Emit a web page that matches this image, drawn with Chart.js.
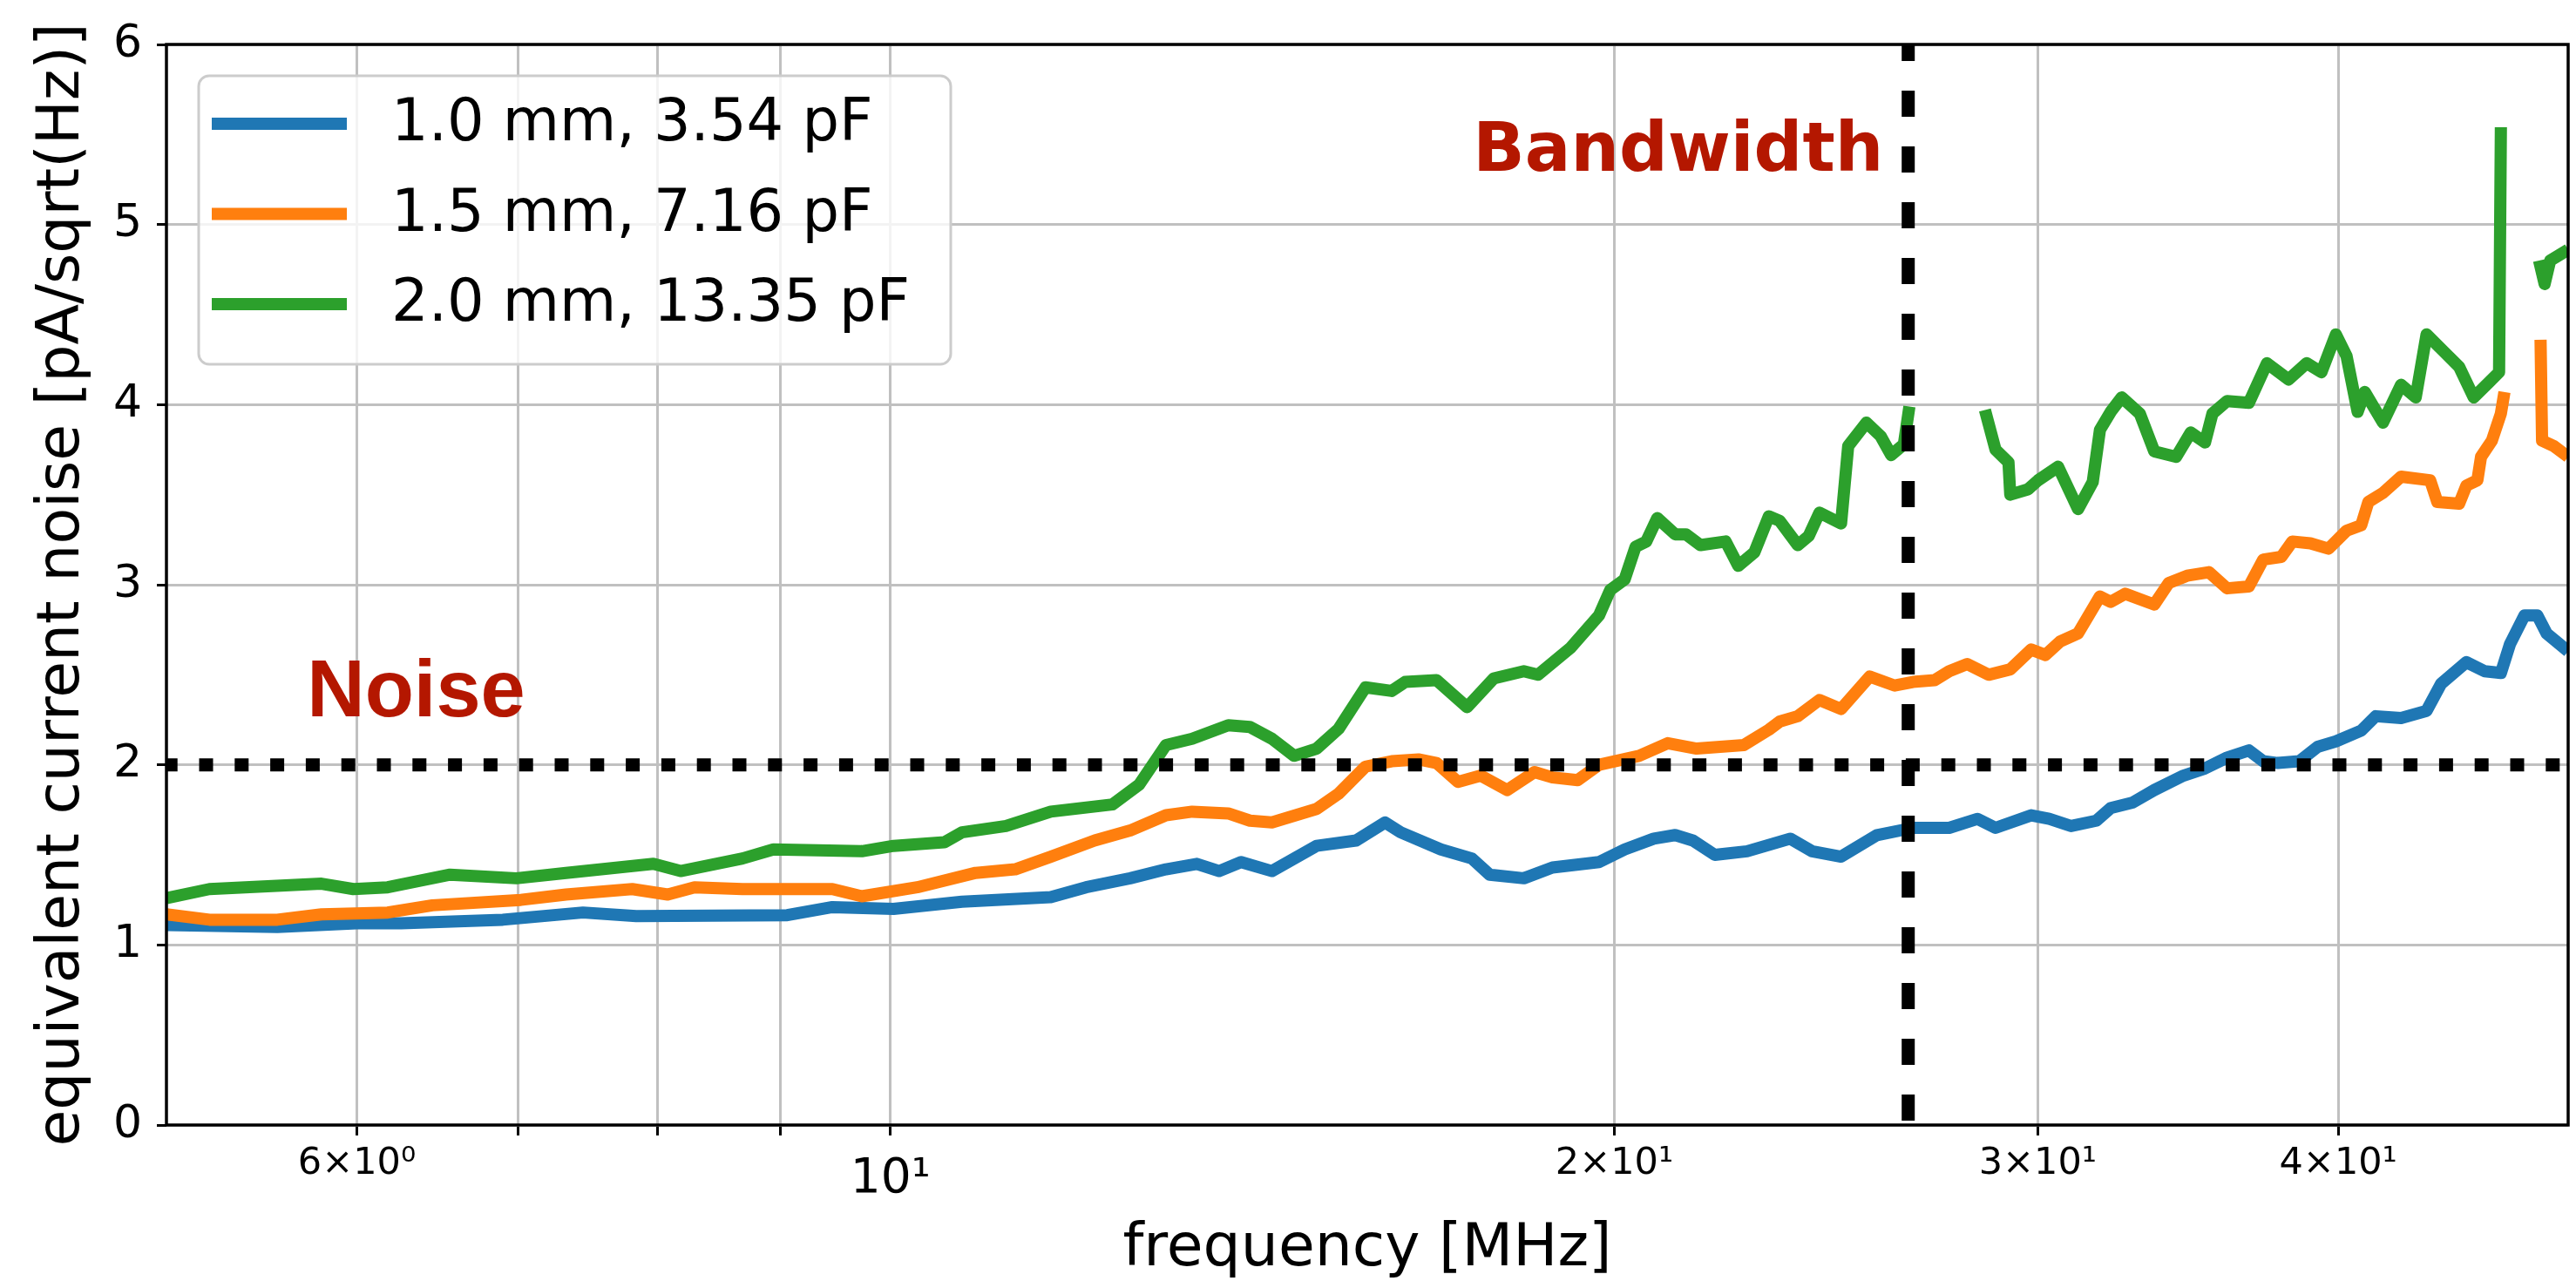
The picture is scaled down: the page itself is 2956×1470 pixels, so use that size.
<!DOCTYPE html>
<html>
<head>
<meta charset="utf-8">
<title>Equivalent current noise</title>
<script src="https://cdn.jsdelivr.net/npm/chart.js@4.4.1/dist/chart.umd.min.js"></script>
<style>
    html, body { margin: 0; padding: 0; background: #fff; }
    #wrap { width: 2956px; height: 1470px; position: relative; }
</style>
</head>
<body>
<div id="wrap"><canvas id="noise-chart"></canvas></div>
<script>
// values (frequency in MHz, noise in pA/sqrt(Hz))
const blueFreq = [5.0, 5.56, 6.0, 6.26, 6.9, 7.45, 7.84, 9.06, 9.46, 10.03, 10.71, 11.66, 12.06, 12.58, 13.02, 13.41, 13.70, 13.99, 14.41, 15.04, 15.62, 16.06, 16.30, 16.94, 17.45, 17.75, 18.34, 18.85, 19.71, 20.2, 20.77, 21.2, 21.56, 22.02, 22.71, 23.67, 24.17, 24.85, 25.72, 26.62, 27.56, 28.32, 28.81, 29.81, 30.33, 30.97, 31.73, 32.17, 32.85, 33.54, 34.49, 35.21, 35.96, 36.72, 37.23, 37.75, 38.54, 39.22, 39.91, 40.89, 41.46, 42.48, 43.53, 44.14, 45.22, 46.02, 46.74, 47.15, 47.81, 48.4, 48.83, 49.85];
const blueNoise = [1.11, 1.10, 1.12, 1.12, 1.14, 1.18, 1.16, 1.165, 1.21, 1.20, 1.24, 1.265, 1.32, 1.37, 1.42, 1.45, 1.41, 1.46, 1.41, 1.55, 1.58, 1.68, 1.625, 1.53, 1.48, 1.39, 1.37, 1.43, 1.46, 1.53, 1.59, 1.61, 1.58, 1.50, 1.52, 1.59, 1.52, 1.49, 1.61, 1.65, 1.65, 1.70, 1.65, 1.72, 1.70, 1.66, 1.69, 1.76, 1.79, 1.86, 1.94, 1.98, 2.04, 2.08, 2.02, 2.01, 2.02, 2.10, 2.13, 2.19, 2.27, 2.26, 2.30, 2.45, 2.57, 2.52, 2.51, 2.67, 2.83, 2.83, 2.73, 2.63];

const orangeFreq = [5.0, 5.21, 5.56, 5.80, 6.18, 6.45, 7.02, 7.33, 7.81, 8.08, 8.29, 8.68, 9.46, 9.73, 10.26, 10.85, 11.27, 11.66, 12.16, 12.58, 13.02, 13.35, 13.82, 14.11, 14.41, 15.04, 15.36, 15.76, 16.16, 16.58, 16.87, 17.22, 17.6, 18.05, 18.53, 18.85, 19.31, 19.71, 20.48, 21.05, 21.64, 22.64, 23.19, 23.43, 23.84, 24.34, 24.85, 25.54, 26.16, 26.62, 27.18, 27.56, 28.04, 28.62, 29.22, 29.81, 30.22, 30.65, 31.18, 31.84, 32.17, 32.62, 33.54, 34.01, 34.61, 35.34, 35.96, 36.72, 37.23, 37.88, 38.28, 38.95, 39.63, 40.32, 40.89, 41.17, 41.75, 42.48, 43.68, 43.98, 44.91, 45.22, 45.70, 45.86, 46.34, 46.74, 46.9, 47.7, 48.55, 48.62, 49.17, 49.85];
const orangeNoise = [1.17, 1.14, 1.14, 1.17, 1.18, 1.22, 1.25, 1.28, 1.31, 1.28, 1.32, 1.31, 1.31, 1.27, 1.32, 1.40, 1.42, 1.49, 1.58, 1.635, 1.72, 1.74, 1.73, 1.69, 1.68, 1.755, 1.84, 1.99, 2.02, 2.03, 2.01, 1.905, 1.94, 1.86, 1.96, 1.93, 1.915, 2.00, 2.05, 2.12, 2.09, 2.11, 2.195, 2.24, 2.27, 2.36, 2.31, 2.49, 2.44, 2.46, 2.47, 2.52, 2.56, 2.50, 2.53, 2.64, 2.61, 2.685, 2.73, 2.935, 2.905, 2.95, 2.89, 3.01, 3.05, 3.07, 2.98, 2.99, 3.14, 3.155, 3.24, 3.23, 3.20, 3.30, 3.33, 3.46, 3.51, 3.60, 3.58, 3.46, 3.45, 3.55, 3.58, 3.71, 3.80, 3.95, 4.07, null, 4.36, 3.80, 3.77, 3.71];

const greenFreq = [5.0, 5.21, 5.80, 5.98, 6.18, 6.56, 6.99, 7.33, 7.97, 8.18, 8.68, 8.94, 9.73, 10.03, 10.53, 10.71, 11.17, 11.66, 12.37, 12.69, 13.02, 13.35, 13.82, 14.11, 14.41, 14.72, 15.04, 15.36, 15.76, 16.16, 16.37, 16.87, 17.37, 17.82, 18.34, 18.59, 19.18, 19.71, 19.92, 20.2, 20.41, 20.62, 20.84, 21.2, 21.42, 21.72, 22.25, 22.52, 22.87, 23.19, 23.43, 23.84, 24.09, 24.34, 24.85, 25.02, 25.46, 25.81, 26.07, 26.39, 26.53, 27.5, 28.52, 28.81, 29.17, 29.22, 29.72, 30.01, 30.59, 31.18, 31.62, 31.84, 32.17, 32.51, 33.08, 33.54, 34.25, 34.73, 35.21, 35.46, 35.96, 36.72, 37.36, 38.14, 38.81, 39.36, 39.91, 40.32, 40.75, 41.03, 41.75, 42.48, 43.08, 43.53, 44.29, 44.91, 45.54, 46.18, 46.66, 46.74, 47.6, 48.48, 48.74, 49.0, 49.85];
const greenNoise = [1.26, 1.31, 1.34, 1.31, 1.32, 1.39, 1.37, 1.40, 1.45, 1.41, 1.48, 1.53, 1.52, 1.55, 1.57, 1.625, 1.66, 1.74, 1.78, 1.89, 2.11, 2.145, 2.22, 2.21, 2.145, 2.05, 2.09, 2.20, 2.43, 2.41, 2.46, 2.47, 2.32, 2.48, 2.52, 2.50, 2.65, 2.83, 2.97, 3.03, 3.21, 3.24, 3.37, 3.28, 3.28, 3.22, 3.24, 3.105, 3.18, 3.38, 3.355, 3.22, 3.27, 3.40, 3.34, 3.77, 3.90, 3.825, 3.72, 3.78, 3.99, null, 3.97, 3.75, 3.68, 3.50, 3.53, 3.58, 3.655, 3.42, 3.57, 3.86, 3.96, 4.04, 3.95, 3.74, 3.71, 3.845, 3.79, 3.95, 4.02, 4.01, 4.23, 4.14, 4.23, 4.18, 4.39, 4.27, 3.96, 4.07, 3.90, 4.11, 4.04, 4.39, 4.29, 4.21, 4.04, 4.12, 4.18, 5.54, null, 4.80, 4.67, 4.80, 4.86];

const seriesLabels = ['1.0 mm, 3.54 pF', '1.5 mm, 7.16 pF', '2.0 mm, 13.35 pF'];
const seriesColors = ['#1f77b4', '#ff7f0e', '#2ca02c'];

const xTickValues = [6, 7, 8, 9, 10, 20, 30, 40];
const xTickLabels = ['6×10⁰', '', '', '', '10¹', '2×10¹', '3×10¹', '4×10¹'];
const freqRange = [5, 49.85];

// reference lines and their captions
const noiseLimit = 2;
const bandwidthMHz = 26.5;
const captionText = ['Bandwidth', 'Noise'];
const captionFreq = [17.47, 5.72];
const captionLevel = [5.30, 2.27];
const captionFont = ['bold 78px "DejaVu Sans"', 'bold 92px "Liberation Sans"'];

const FONT = 'DejaVu Sans';
Chart.defaults.font.family = FONT;
Chart.defaults.color = '#000';

function toPoints(freq, noise) {
    return freq.map((f, i) => ({ x: f, y: noise[i] }));
}

const seriesData = [
    toPoints(blueFreq, blueNoise),
    toPoints(orangeFreq, orangeNoise),
    toPoints(greenFreq, greenNoise),
];

const seriesSets = seriesData.map((data, i) => ({
    label: seriesLabels[i],
    data: data,
    borderColor: seriesColors[i],
    borderWidth: 14,
    borderJoinStyle: 'round',
    pointRadius: 0,
    spanGaps: false,
    clip: 0,
    order: 4 - i,
}));

// frame, captions and legend
const decorPlugin = {
    id: 'decor',
    afterDatasetsDraw(chart) {
        const { ctx, chartArea: a, scales: { x, y } } = chart;
        ctx.save();
        ctx.strokeStyle = '#000';
        ctx.lineWidth = 3.5;
        ctx.strokeRect(a.left, a.top, a.right - a.left, a.bottom - a.top);

        ctx.fillStyle = '#b41700';
        ctx.textAlign = 'left';
        ctx.textBaseline = 'alphabetic';
        captionText.forEach((t, i) => {
            ctx.font = captionFont[i];
            ctx.fillText(t, x.getPixelForValue(captionFreq[i]), y.getPixelForValue(captionLevel[i]));
        });
        ctx.restore();
    },
    afterDraw(chart) {
        const { ctx, chartArea: a } = chart;
        const bx = a.left + 37, by = a.top + 36, bw = 863, bh = 331;
        ctx.save();
        ctx.beginPath();
        ctx.roundRect(bx, by, bw, bh, 12);
        ctx.fillStyle = 'rgba(255,255,255,0.8)';
        ctx.fill();
        ctx.strokeStyle = '#cccccc';
        ctx.lineWidth = 3;
        ctx.stroke();

        ctx.font = '67px "' + FONT + '"';
        ctx.textAlign = 'left';
        ctx.textBaseline = 'middle';
        seriesSets.forEach((ds, i) => {
            const cy = by + 55 + i * 103.5;
            ctx.beginPath();
            ctx.moveTo(bx + 15, cy);
            ctx.lineTo(bx + 170, cy);
            ctx.strokeStyle = ds.borderColor;
            ctx.lineWidth = 14;
            ctx.lineCap = 'butt';
            ctx.stroke();
            ctx.fillStyle = '#000';
            ctx.fillText(ds.label, bx + 221, cy + 2);
        });
        ctx.restore();
    }
};

const chart = new Chart(document.getElementById('noise-chart'), {
    type: 'line',
    data: {
        datasets: [
            {
                label: 'noise limit',
                data: [{ x: freqRange[0], y: noiseLimit }, { x: freqRange[1], y: noiseLimit }],
                borderColor: '#000',
                borderWidth: 15,
                borderDash: [16, 24.8],
                borderDashOffset: 3.3,
                borderCapStyle: 'butt',
                pointRadius: 0,
                clip: 0,
                order: 0,
            },
            {
                label: 'bandwidth',
                data: [{ x: bandwidthMHz, y: 6 }, { x: bandwidthMHz, y: 0 }],
                borderColor: '#000',
                borderWidth: 15,
                borderDash: [30, 34],
                borderDashOffset: 11,
                borderCapStyle: 'butt',
                pointRadius: 0,
                clip: 0,
                order: 1,
            },
            ...seriesSets,
        ]
    },
    options: {
        responsive: true,
        maintainAspectRatio: false,
        devicePixelRatio: 1,
        animation: false,
        events: [],
        layout: { padding: { top: 51, right: 9, left: 0, bottom: 0 } },
        plugins: {
            legend: { display: false },
            tooltip: { enabled: false },
        },
        scales: {
            x: {
                type: 'logarithmic',
                min: freqRange[0],
                max: freqRange[1],
                afterFit: scale => { scale.height = 179; },
                afterBuildTicks: scale => {
                    scale.ticks = xTickValues.map(v => ({ value: v }));
                },
                border: { display: false },
                grid: {
                    color: '#c0c0c0',
                    lineWidth: 3,
                    tickColor: '#000',
                    tickWidth: 3,
                    tickLength: 12,
                },
                ticks: {
                    autoSkip: false,
                    maxRotation: 0,
                    minRotation: 0,
                    padding: 7,
                    color: '#000',
                    callback: value => {
                        const i = xTickValues.indexOf(value);
                        return i >= 0 ? xTickLabels[i] : '';
                    },
                    font: c => (c.tick && c.tick.value === 10)
                        ? { family: FONT, size: 55, lineHeight: 1.6 }
                        : { family: FONT, size: 43, lineHeight: 1.2 },
                },
                title: {
                    display: true,
                    text: 'frequency [MHz]',
                    color: '#000',
                    font: { family: FONT, size: 68, lineHeight: 1 },
                    padding: { top: 0, bottom: 2 },
                },
            },
            y: {
                min: 0,
                max: 6,
                afterFit: scale => { scale.width = 191; },
                border: { display: false },
                grid: {
                    color: '#c0c0c0',
                    lineWidth: 3,
                    tickColor: '#000',
                    tickWidth: 3,
                    tickLength: 11,
                },
                ticks: {
                    stepSize: 1,
                    padding: 17,
                    color: '#000',
                    font: { family: FONT, size: 52 },
                },
                title: {
                    display: true,
                    text: 'equivalent current noise [pA/sqrt(Hz)]',
                    color: '#000',
                    font: { family: FONT, size: 68, lineHeight: 1 },
                    padding: { top: 38, bottom: 0 },
                },
            },
        },
    },
    plugins: [decorPlugin],
});
</script>
</body>
</html>
